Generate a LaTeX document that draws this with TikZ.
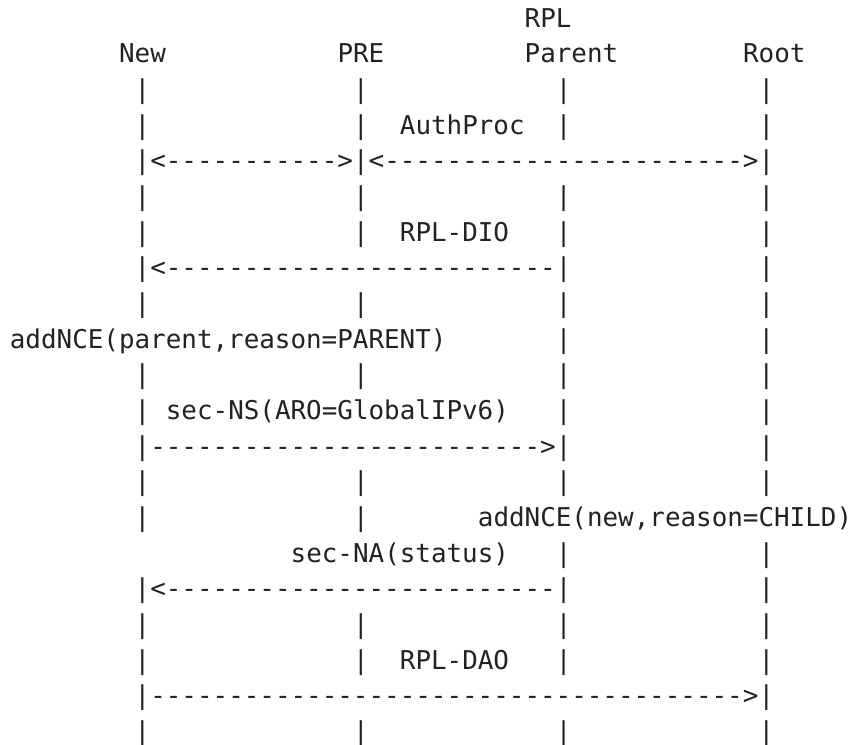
\documentclass[tikz,border=0pt]{standalone}
\usepackage{fontspec}
\setmonofont{DejaVu Sans Mono}
\usepackage{xcolor}
\definecolor{ink}{HTML}{222222}
\tikzset{
  ascii/.style={
    font=\ttfamily\fontsize{25.9pt}{35.7pt}\selectfont,
    text=ink,inner sep=0pt,anchor=base west
  },
  head/.style={ascii},
  bar/.style={ascii},
  msg/.style={ascii},
  note/.style={ascii}
}
\begin{document}
\begin{tikzpicture}[x=15.6pt,y=-35.67pt]
\useasboundingbox (-0.622,-0.757) rectangle (53.929,20.101);
% participants
\node[head] (rpl) at (33,0) {RPL};
\node[head] (new) at (7,1) {New};
\node[head] (pre) at (21,1) {PRE};
\node[head] (parent) at (33,1) {Parent};
\node[head] (root) at (47,1) {Root};
% lifelines
\foreach \r in {2,3,4,5,6,7,8,10,11,12,13,14,16,17,18,19,20}
  \node[bar] (new-\r) at (8,\r) {|};
\foreach \r in {2,3,4,5,6,8,10,13,14,17,18,20}
  \node[bar] (pre-\r) at (22,\r) {|};
\foreach \r in {2,3,5,6,7,8,9,10,11,12,13,15,16,17,18,20}
  \node[bar] (parent-\r) at (35,\r) {|};
\foreach \r in {2,3,4,5,6,7,8,9,10,11,12,13,15,16,17,18,19,20}
  \node[bar] (root-\r) at (48,\r) {|};
% messages
\node[note] (authproc) at (25,3) {AuthProc};
\node[msg] (auth-a) at (9,4) {<----------->};
\node[msg] (auth-b) at (23,4) {<----------------------->};
\node[note] (dio) at (25,6) {RPL-DIO};
\node[msg] (dio-msg) at (9,7) {<-------------------------};
\node[note] (nce-parent) at (0,9) {addNCE(parent,reason=PARENT)};
\node[note] (ns) at (10,11) {sec-NS(ARO=GlobalIPv6)};
\node[msg] (ns-msg) at (9,12) {------------------------->};
\node[note] (nce-new) at (30,14) {addNCE(new,reason=CHILD)};
\node[note] (na) at (18,15) {sec-NA(status)};
\node[msg] (na-msg) at (9,16) {<-------------------------};
\node[note] (dao) at (25,18) {RPL-DAO};
\node[msg] (dao-msg) at (9,19) {-------------------------------------->};
\end{tikzpicture}
\end{document}
